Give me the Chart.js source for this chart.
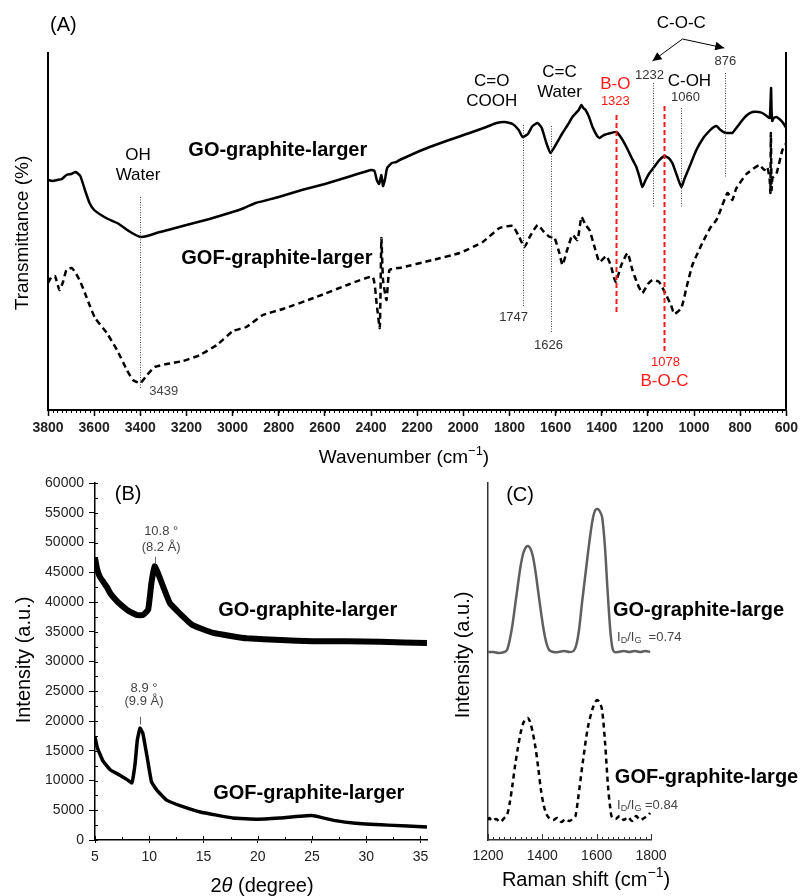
<!DOCTYPE html>
<html>
<head>
<meta charset="utf-8">
<script src="https://cdn.jsdelivr.net/npm/chart.js@4.4.1/dist/chart.umd.min.js"></script>
<style>
  html, body { margin: 0; padding: 0; background: #fff; }
  #wrap { position: relative; width: 802px; height: 896px; }
  canvas { position: absolute; left: 0; top: 0; }
</style>
</head>
<body>
<div id="wrap">
  <canvas id="chart-a" width="802" height="896"></canvas>
  <canvas id="chart-b" width="802" height="896"></canvas>
  <canvas id="chart-c" width="802" height="896"></canvas>
</div>
<script>
// (A) FTIR - wavenumber (cm-1) vs relative transmittance (a.u.)
const ftirWaveGO = [3800, 3780, 3760, 3740, 3720, 3700, 3680, 3660, 3640, 3620, 3600, 3570, 3540, 3500, 3450, 3420, 3400, 3370, 3330, 3280, 3200, 3100, 3000, 2950, 2900, 2850, 2800, 2700, 2600, 2500, 2400, 2385, 2375, 2365, 2355, 2348, 2340, 2330, 2310, 2290, 2276, 2146, 1973, 1900, 1856, 1820, 1786, 1760, 1743, 1720, 1700, 1678, 1660, 1640, 1622, 1600, 1570, 1545, 1527, 1500, 1488, 1480, 1470, 1455, 1440, 1420, 1410, 1390, 1360, 1336, 1315, 1293, 1270, 1250, 1235, 1224, 1210, 1193, 1170, 1150, 1128, 1110, 1094, 1075, 1055, 1040, 1020, 990, 960, 942, 920, 903, 885, 864, 845, 834, 810, 790, 770, 747, 720, 704, 685, 672, 668, 666, 664, 661, 655, 643, 630, 617, 600];
const ftirGO = [230, 229, 230, 231, 235, 236, 238, 234, 220, 207, 200, 195, 191, 187, 179, 175, 173, 174, 177, 180, 185, 191, 198, 202, 207, 210, 213, 220, 226, 233, 240, 239, 230, 226, 235, 224, 230, 242, 247, 248, 250, 263, 277, 283, 287, 288, 286, 280, 273, 276, 284, 287, 282, 267, 257, 265, 277, 286, 293, 300, 305, 302, 300, 293, 283, 274, 272, 275, 277, 278, 272, 263, 252, 243, 232, 223, 230, 237, 244, 250, 254, 252, 247, 235, 223, 232, 243, 260, 272, 277, 282, 284, 280, 277, 277, 277, 284, 290, 295, 298, 298, 297, 294, 292, 310, 322, 300, 289, 292, 293, 291, 288, 282];
const ftirWaveGOF = [3800, 3785, 3770, 3750, 3735, 3720, 3697, 3680, 3661, 3640, 3620, 3596, 3545, 3501, 3458, 3432, 3400, 3371, 3337, 3285, 3215, 3142, 3068, 2998, 2940, 2869, 2782, 2637, 2492, 2393, 2375, 2362, 2355, 2348, 2333, 2320, 2285, 2276, 2133, 2016, 1916, 1843, 1786, 1760, 1735, 1710, 1678, 1650, 1626, 1606, 1585, 1570, 1550, 1527, 1505, 1488, 1470, 1453, 1430, 1410, 1380, 1360, 1340, 1315, 1288, 1267, 1245, 1224, 1200, 1180, 1151, 1121, 1100, 1085, 1055, 1030, 1007, 964, 930, 903, 890, 855, 834, 818, 773, 717, 695, 682, 672, 669, 667, 664, 660, 643, 617, 600];
const ftirGOF = [127, 133, 134, 120, 128, 140, 142, 137, 129, 117, 105, 92, 77, 60, 40, 30, 27, 35, 43, 46, 49, 55, 65, 79, 83, 95, 101, 113, 126, 133, 105, 82, 172, 130, 110, 140, 142, 142, 150, 157, 168, 182, 184, 174, 163, 174, 185, 178, 173, 173, 158, 145, 160, 175, 170, 193, 185, 180, 162, 148, 154, 144, 128, 145, 157, 140, 126, 117, 126, 130, 128, 115, 105, 96, 102, 125, 145, 167, 182, 190, 197, 217, 210, 221, 236, 245, 240, 243, 230, 217, 277, 220, 232, 236, 260, 267];
const ftirTicks = { min: 600, max: 3800, step: 200 };

// (B) XRD - 2theta (degree) vs intensity (a.u.)
const xrdThetaGO = [5, 5.2, 5.46, 5.8, 6.1, 6.4, 6.7, 7.1, 7.6, 8.0, 8.5, 8.9, 9.4, 9.9, 10.2, 10.5, 10.8, 11.3, 11.9, 12.8, 14.0, 15.9, 17.5, 19.0, 22.1, 25.1, 28.2, 31.3, 35.6];
const xrdGO = [47400, 45500, 44200, 43300, 42500, 41500, 40800, 40000, 39200, 38600, 38100, 37800, 37800, 38700, 43200, 46000, 44900, 42500, 39800, 38100, 36100, 34800, 34300, 33900, 33600, 33400, 33400, 33300, 33100];
const xrdThetaGOF = [5, 5.2, 5.7, 6.4, 7.3, 8.0, 8.4, 8.7, 8.9, 9.15, 9.4, 9.8, 10.2, 10.7, 11.6, 13.1, 14.7, 17.7, 20.0, 22.0, 25.0, 27.0, 29.0, 32.0, 35.6];
const xrdGOF = [17300, 15600, 13400, 11800, 10900, 10100, 9600, 12900, 16800, 18800, 18000, 14000, 9800, 8400, 6700, 5600, 4700, 3700, 3500, 3700, 4100, 3300, 2800, 2500, 2200];
const xrdTicks = { min: 5, max: 35.6, step: 5, yMax: 60000, yStep: 5000 };

// (C) Raman - shift (cm-1) vs intensity (a.u.)
const ramanShiftGO = [1200, 1220, 1240, 1260, 1270, 1280, 1290, 1300, 1310, 1320, 1330, 1340, 1347, 1355, 1365, 1375, 1385, 1395, 1405, 1415, 1425, 1440, 1460, 1480, 1500, 1515, 1525, 1535, 1546, 1557, 1568, 1578, 1587, 1595, 1603, 1611, 1620, 1630, 1640, 1650, 1658, 1665, 1680, 1700, 1720, 1740, 1760, 1780, 1797];
const ramanGO = [188, 188, 187, 188, 190, 200, 215, 235, 255, 274, 287, 293, 294, 292, 284, 268, 248, 228, 210, 197, 190, 188, 188, 189, 188, 189, 195, 210, 237, 262, 287, 308, 323, 330, 331, 329, 323, 295, 250, 210, 192, 188, 188, 189, 188, 189, 188, 189, 188];
const ramanShiftGOF = [1200, 1205, 1215, 1230, 1245, 1260, 1270, 1280, 1290, 1300, 1310, 1320, 1330, 1340, 1347, 1355, 1365, 1375, 1385, 1395, 1405, 1415, 1425, 1440, 1455, 1470, 1485, 1500, 1515, 1522, 1531, 1550, 1568, 1587, 1601, 1612, 1620, 1631, 1642, 1650, 1656, 1670, 1685, 1700, 1715, 1730, 1745, 1760, 1775, 1790, 1797];
const ramanGOF = [20, 22, 19, 21, 18, 22, 25, 37, 55, 75, 92, 107, 117, 121, 122, 118, 107, 92, 72, 50, 35, 26, 22, 20, 22, 18, 21, 19, 22, 24, 40, 80, 113, 133, 140, 137, 130, 97, 53, 32, 23, 21, 24, 20, 23, 19, 24, 20, 22, 25, 27];
const ramanTicks = { min: 1200, max: 1800, step: 200 };

const FONT = '"Liberation Sans", Arial, Helvetica, sans-serif';
Chart.defaults.font.family = FONT;

const pts = (xs, ys) => xs.map((x, i) => ({ x: x, y: ys[i] }));
const plain = v => String(v);

function fontStr(size, bold, italic) {
    return (italic ? 'italic ' : '') + (bold ? 'bold ' : '') + size + 'px ' + FONT;
}

function drawText(ctx, item, x, y) {
    const size = item.size || 14;
    const parts = item.parts || [[item.t, '']];
    const segs = parts.map(p => {
        const small = p[1] === 'sub' || p[1] === 'sup';
        const f = fontStr(small ? Math.round(size * 0.68) : size, item.bold, p[1] === 'i');
        ctx.font = f;
        return { s: p[0], k: p[1], f: f, w: ctx.measureText(p[0]).width };
    });
    const total = segs.reduce((a, g) => a + g.w, 0);
    ctx.save();
    ctx.translate(x, y);
    if (item.rot) ctx.rotate(item.rot * Math.PI / 180);
    let cx = item.align === 'left' ? 0 : -total / 2;
    ctx.fillStyle = item.color || '#000';
    ctx.textBaseline = 'middle';
    ctx.textAlign = 'left';
    segs.forEach(g => {
        ctx.font = g.f;
        const dy = g.k === 'sup' ? -size * 0.35 : g.k === 'sub' ? size * 0.28 : 0;
        ctx.fillText(g.s, cx, dy);
        cx += g.w;
    });
    ctx.restore();
}

// draws annotations, extra tick marks and axis titles on top of a chart
function overlay(cfg) {
    return {
        id: 'overlay',
        afterDraw(chart) {
            const ctx = chart.ctx;
            const area = chart.chartArea;
            const xs = chart.scales.x, ys = chart.scales.y;
            ctx.save();

            (cfg.ticks || []).forEach(m => {
                const sc = chart.scales[m.axis];
                const n = Math.floor((sc.max - sc.min) / m.step + 1e-6);
                ctx.strokeStyle = m.color || '#000';
                ctx.lineWidth = 1;
                ctx.beginPath();
                for (let i = 0; i <= n; i++) {
                    const p = Math.round(sc.getPixelForValue(sc.min + i * m.step)) + 0.5;
                    if (m.axis === 'x') { ctx.moveTo(p, area.bottom); ctx.lineTo(p, area.bottom - m.len); }
                    else { ctx.moveTo(area.left, p); ctx.lineTo(area.left + m.len, p); }
                }
                ctx.stroke();
            });

            (cfg.vlines || []).forEach(l => {
                const px = Math.round(xs.getPixelForValue(l.x)) + 0.5;
                ctx.strokeStyle = l.color || '#444';
                ctx.lineWidth = l.width || 1;
                ctx.setLineDash(l.dash || []);
                ctx.beginPath();
                ctx.moveTo(px, ys.getPixelForValue(l.y1));
                ctx.lineTo(px, ys.getPixelForValue(l.y2));
                ctx.stroke();
            });
            ctx.setLineDash([]);

            (cfg.arrows || []).forEach(a => {
                const x1 = xs.getPixelForValue(a.x1), y1 = ys.getPixelForValue(a.y1);
                const x2 = xs.getPixelForValue(a.x2), y2 = ys.getPixelForValue(a.y2);
                const ang = Math.atan2(y2 - y1, x2 - x1), h = 10;
                ctx.strokeStyle = '#000';
                ctx.fillStyle = '#000';
                ctx.lineWidth = 1;
                ctx.beginPath();
                ctx.moveTo(x1, y1);
                ctx.lineTo(x2, y2);
                ctx.stroke();
                ctx.beginPath();
                ctx.moveTo(x2, y2);
                ctx.lineTo(x2 - h * Math.cos(ang - 0.45), y2 - h * Math.sin(ang - 0.45));
                ctx.lineTo(x2 - h * Math.cos(ang + 0.45), y2 - h * Math.sin(ang + 0.45));
                ctx.closePath();
                ctx.fill();
            });

            (cfg.texts || []).forEach(t => drawText(ctx, t, xs.getPixelForValue(t.x), ys.getPixelForValue(t.y)));
            (cfg.titles || []).forEach(t => drawText(ctx, t, t.px, t.py));
            ctx.restore();
        }
    };
}

const RED = '#ff1a1a';
const DOT = [1, 1.5];

// Panel A
const chartA = new Chart(document.getElementById('chart-a'), {
    type: 'line',
    data: {
        datasets: [{
            label: 'GO-graphite-larger',
            data: pts(ftirWaveGO, ftirGO),
            borderColor: '#000',
            borderWidth: 2.5,
            pointRadius: 0,
            tension: 0.15
        }, {
            label: 'GOF-graphite-larger',
            data: pts(ftirWaveGOF, ftirGOF),
            borderColor: '#000',
            borderWidth: 2.5,
            borderDash: [6, 4],
            pointRadius: 0,
            tension: 0.15
        }]
    },
    options: {
        responsive: false,
        animation: false,
        layout: { padding: { left: 48, right: 15, top: 53, bottom: 446 } },
        plugins: { legend: { display: false }, tooltip: { enabled: false } },
        scales: {
            x: {
                type: 'linear', reverse: true, min: ftirTicks.min, max: ftirTicks.max,
                ticks: { stepSize: ftirTicks.step, callback: plain, color: '#222', font: { size: 14, weight: 'bold' }, padding: 4, maxRotation: 0, autoSkip: false },
                grid: { drawOnChartArea: false, tickLength: 6, color: '#000', tickWidth: 1.5 },
                border: { color: '#000', width: 2 },
                afterFit: s => { s.height = 40; }
            },
            y: {
                min: 0, max: 357,
                ticks: { display: false }, grid: { display: false },
                border: { color: '#000', width: 2 },
                afterFit: s => { s.width = 0; }
            },
            y2: {
                position: 'right', min: 0, max: 357,
                ticks: { display: false }, grid: { display: false },
                border: { color: '#000', width: 2 },
                afterFit: s => { s.width = 0; }
            }
        }
    },
    plugins: [overlay({
        ticks: [{ axis: 'x', step: 20, len: -3 }],
        vlines: [
            { x: 3400, y1: 213, y2: 22, dash: DOT },
            { x: 1743, y1: 285, y2: 103, dash: DOT },
            { x: 1622, y1: 284, y2: 78, dash: DOT },
            { x: 1180, y1: 327, y2: 202, dash: DOT },
            { x: 1055, y1: 302, y2: 203, dash: DOT },
            { x: 864, y1: 337, y2: 233, dash: DOT },
            { x: 1340, y1: 295, y2: 95, color: RED, width: 2, dash: [5, 3] },
            { x: 1128, y1: 304, y2: 58, color: RED, width: 2, dash: [5, 3] }
        ],
        arrows: [
            { x1: 1050, y1: 371, x2: 1180, y2: 349 },
            { x1: 1050, y1: 371, x2: 869, y2: 362 }
        ],
        texts: [
            { t: '(A)', x: 3791, y: 385, size: 20, align: 'left' },
            { t: 'OH', x: 3410, y: 255, size: 17 },
            { t: 'Water', x: 3410, y: 235, size: 17 },
            { t: 'GO-graphite-larger', x: 2804, y: 260, size: 20, bold: true },
            { t: 'GOF-graphite-larger', x: 2808, y: 152, size: 20, bold: true },
            { t: '3439', x: 3298, y: 19, size: 13, color: '#444' },
            { t: 'C=O', x: 1877, y: 329, size: 17 },
            { t: 'COOH', x: 1877, y: 309, size: 17 },
            { t: 'C=C', x: 1583, y: 338, size: 17 },
            { t: 'Water', x: 1583, y: 318, size: 17 },
            { t: 'B-O', x: 1341, y: 326, size: 17, color: RED },
            { t: '1323', x: 1341, y: 309, size: 13, color: RED },
            { t: '1232', x: 1193, y: 335, size: 13, color: '#333' },
            { t: 'C-OH', x: 1020, y: 329, size: 17 },
            { t: '1060', x: 1037, y: 313, size: 13, color: '#333' },
            { t: 'C-O-C', x: 1055, y: 387, size: 17 },
            { t: '876', x: 864, y: 349, size: 13, color: '#333' },
            { t: '1747', x: 1782, y: 93, size: 13, color: '#333' },
            { t: '1626', x: 1631, y: 65, size: 13, color: '#333' },
            { t: '1078', x: 1124, y: 48, size: 13, color: RED },
            { t: 'B-O-C', x: 1128, y: 29, size: 17, color: RED }
        ],
        titles: [
            { parts: [['Wavenumber (cm', ''], ['\u22121', 'sup'], [')', '']], px: 404, py: 458, size: 19 },
            { t: 'Transmittance (%)', px: 23, py: 233, size: 19, rot: -90 }
        ]
    })]
});

// Panel B
const chartB = new Chart(document.getElementById('chart-b'), {
    type: 'line',
    data: {
        datasets: [{
            label: 'GO-graphite-larger',
            data: pts(xrdThetaGO, xrdGO),
            borderColor: '#000',
            borderWidth: 6,
            pointRadius: 0,
            tension: 0.1
        }, {
            label: 'GOF-graphite-larger',
            data: pts(xrdThetaGOF, xrdGOF),
            borderColor: '#000',
            borderWidth: 3.5,
            pointRadius: 0,
            tension: 0.1
        }]
    },
    options: {
        responsive: false,
        animation: false,
        layout: { padding: { left: 35, right: 375, top: 483, bottom: 6 } },
        plugins: { legend: { display: false }, tooltip: { enabled: false } },
        scales: {
            x: {
                type: 'linear', min: xrdTicks.min, max: xrdTicks.max,
                ticks: { stepSize: xrdTicks.step, includeBounds: false, callback: plain, color: '#222', font: { size: 14 }, padding: 6, maxRotation: 0 },
                grid: { drawOnChartArea: false, tickLength: 3, color: '#000' },
                border: { color: '#000', width: 1.5 },
                afterFit: s => { s.height = 50; }
            },
            y: {
                min: 0, max: xrdTicks.yMax,
                ticks: { stepSize: xrdTicks.yStep, callback: plain, color: '#222', font: { size: 14 }, padding: 5 },
                grid: { drawOnChartArea: false, tickLength: 6, color: '#000' },
                border: { color: '#000', width: 1.5 },
                afterFit: s => { s.width = 60; }
            }
        }
    },
    plugins: [overlay({
        ticks: [{ axis: 'x', step: 2.5, len: 3 }, { axis: 'x', step: 5, len: 4 }, { axis: 'y', step: 2500, len: 3 }],
        vlines: [
            { x: 10.55, y1: 47600, y2: 46400, color: '#666' },
            { x: 9.15, y1: 20700, y2: 19400, color: '#666' }
        ],
        texts: [
            { t: '(B)', x: 8.05, y: 58000, size: 20 },
            { t: '10.8 \u00b0', x: 11.1, y: 51900, size: 13, color: '#444' },
            { t: '(8.2 \u00c5)', x: 11.1, y: 49200, size: 13, color: '#444' },
            { t: '8.9 \u00b0', x: 9.52, y: 25400, size: 13, color: '#444' },
            { t: '(9.9 \u00c5)', x: 9.52, y: 23300, size: 13, color: '#444' },
            { t: 'GO-graphite-larger', x: 16.36, y: 38650, size: 20, bold: true, align: 'left' },
            { t: 'GOF-graphite-larger', x: 15.9, y: 7900, size: 20, bold: true, align: 'left' }
        ],
        titles: [
            { parts: [['2', ''], ['\u03b8', 'i'], [' (degree)', '']], px: 262, py: 886, size: 20 },
            { t: 'Intensity (a.u.)', px: 24, py: 660, size: 20, rot: -90 }
        ]
    })]
});

// Panel C
const chartC = new Chart(document.getElementById('chart-c'), {
    type: 'line',
    data: {
        datasets: [{
            label: 'GO-graphite-large',
            data: pts(ramanShiftGO, ramanGO),
            borderColor: '#5f5f5f',
            borderWidth: 2.5,
            pointRadius: 0,
            tension: 0.3
        }, {
            label: 'GOF-graphite-large',
            data: pts(ramanShiftGOF, ramanGOF),
            borderColor: '#000',
            borderWidth: 2.5,
            borderDash: [5, 4],
            pointRadius: 0,
            tension: 0.3
        }]
    },
    options: {
        responsive: false,
        animation: false,
        layout: { padding: { left: 488, right: 151, top: 483, bottom: 6 } },
        plugins: { legend: { display: false }, tooltip: { enabled: false } },
        scales: {
            x: {
                type: 'linear', min: ramanTicks.min, max: ramanTicks.max,
                ticks: { stepSize: ramanTicks.step, callback: plain, color: '#222', font: { size: 14 }, padding: 8, maxRotation: 0 },
                grid: { drawOnChartArea: false, drawTicks: false },
                border: { color: '#333', width: 1.5 },
                afterFit: s => { s.height = 50; }
            },
            y: {
                min: 0, max: 357,
                ticks: { display: false }, grid: { display: false },
                border: { color: '#333', width: 1.5 },
                afterFit: s => { s.width = 0; }
            }
        }
    },
    plugins: [overlay({
        ticks: [{ axis: 'x', step: 20, len: 3, color: '#333' }, { axis: 'x', step: 200, len: 6, color: '#333' }],
        texts: [
            { t: '(C)', x: 1318, y: 345, size: 20 },
            { t: 'GO-graphite-large', x: 1660, y: 230, size: 20, bold: true, align: 'left' },
            { parts: [['I', ''], ['D', 'sub'], ['/I', ''], ['G', 'sub'], ['  =0.74', '']], x: 1675, y: 203, size: 13, color: '#444', align: 'left' },
            { t: 'GOF-graphite-large', x: 1667, y: 63, size: 20, bold: true, align: 'left' },
            { parts: [['I', ''], ['D', 'sub'], ['/I', ''], ['G', 'sub'], [' =0.84', '']], x: 1675, y: 35, size: 13, color: '#444', align: 'left' }
        ],
        titles: [
            { parts: [['Raman shift (cm', ''], ['\u22121', 'sup'], [')', '']], px: 586, py: 880, size: 20 },
            { t: 'Intensity (a.u.)', px: 463, py: 655, size: 20, rot: -90 }
        ]
    })]
});
</script>
</body>
</html>
